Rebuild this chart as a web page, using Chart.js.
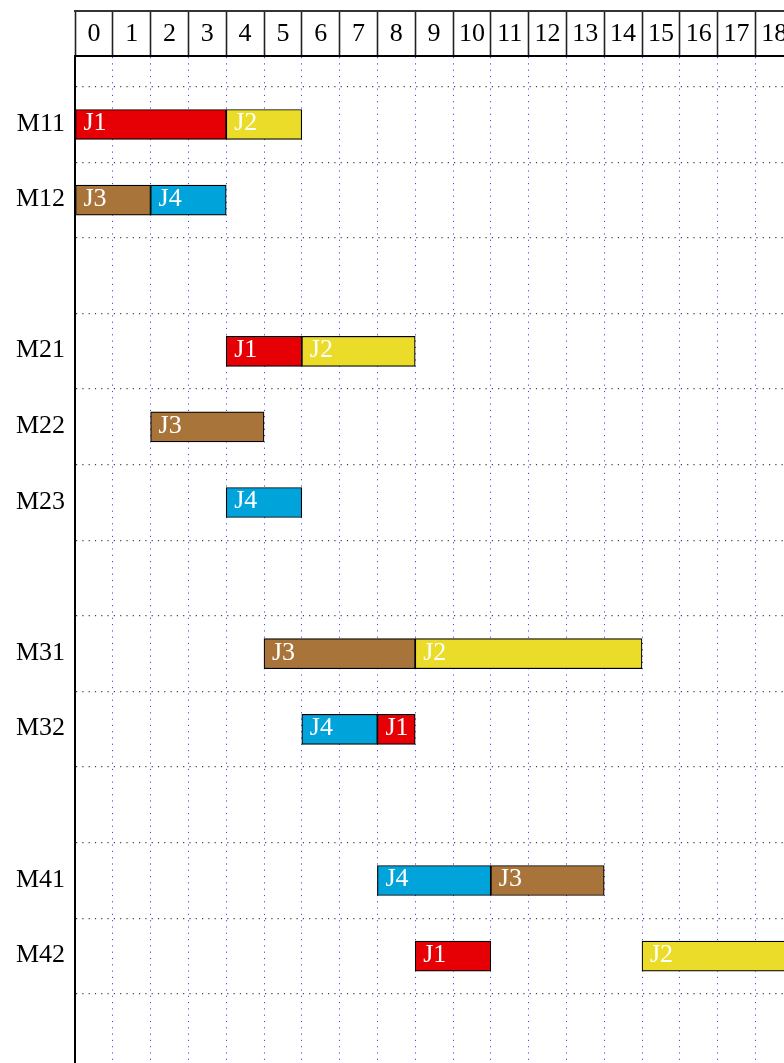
<!DOCTYPE html>
<html lang="en">
<head>
    <meta charset="UTF-8">
    <title>gantt</title>
    <style>
        html, body { margin: 0; padding: 0; overflow: hidden; background: #fff; }
        canvas { display: block; }
    </style>
</head>
<body>

<script src="https://cdn.jsdelivr.net/npm/chart.js"></script>

<canvas id="mycanvas" width="831" height="1103"></canvas>

<script>
    // rows of the chart (empty strings are the gaps between machine groups)
    const machines = ['M11', 'M12', '', 'M21', 'M22', 'M23', '', 'M31', 'M32', '', 'M41', 'M42', ''];
    // time labels in the header
    const hours = ['0','1','2','3','4','5','6','7','8','9','10','11','12','13','14','15','16','17','18','19'];

    // [machine, start, end] for each job
    const J1 = [['M11', 0, 4], ['M21', 4, 6], ['M32', 8, 9], ['M42', 9, 11]];
    const J2 = [['M11', 4, 6], ['M21', 6, 9], ['M31', 9, 15], ['M42', 15, 19]];
    const J3 = [['M12', 0, 2], ['M22', 2, 5], ['M31', 5, 9], ['M41', 11, 14]];
    const J4 = [['M12', 2, 4], ['M23', 4, 6], ['M32', 6, 8], ['M41', 8, 11]];

    const jobNames = ['J1', 'J2', 'J3', 'J4'];
    const jobColors = ['#e60005', '#ebdc2a', '#a9743a', '#00a3da'];

    function toBars(job) {
        return job.map(j => ({ y: machines.indexOf(j[0]), x: [j[1], j[2]] }));
    }

    // white job names inside the bars
    const barLabels = {
        id: 'barLabels',
        afterDatasetsDraw(chart) {
            const ctx = chart.ctx;
            ctx.save();
            ctx.font = '26px "Liberation Serif"';
            ctx.fillStyle = '#fff';
            ctx.textBaseline = 'middle';
            chart.data.datasets.forEach((ds, i) => {
                chart.getDatasetMeta(i).data.forEach(bar => {
                    ctx.fillText(ds.label, Math.min(bar.x, bar.base) + 8, bar.y - 1);
                });
            });
            ctx.restore();
        }
    };

    Chart.defaults.font.family = '"Liberation Serif", serif';
    Chart.defaults.font.size = 26;
    Chart.defaults.color = '#000';

    new Chart(document.getElementById('mycanvas'), {
        type: 'bar',
        data: {
            datasets: [J1, J2, J3, J4].map((job, i) => ({
                label: jobNames[i],
                data: toBars(job),
                backgroundColor: jobColors[i],
                borderColor: '#000',
                borderWidth: 1.2,
                borderSkipped: false,
                barThickness: 30,
                grouped: false
            }))
        },
        options: {
            indexAxis: 'y',
            responsive: false,
            animation: false,
            layout: { padding: { top: 11, left: 0, right: 0, bottom: 40 } },
            plugins: { legend: { display: false }, tooltip: { enabled: false } },
            scales: {
                x: {
                    type: 'linear',
                    position: 'top',
                    min: 0,
                    max: 20,
                    offset: false,
                    grid: {
                        color: 'rgb(70,70,255)',
                        lineWidth: 1,
                        tickLength: 45,
                        tickColor: '#222',
                        tickWidth: 1.6,
                        offset: false
                    },
                    border: { color: '#000', width: 2, dash: [1.2, 5.1] },
                    ticks: {
                        stepSize: 1,
                        autoSkip: false,
                        minRotation: 0,
                        maxRotation: 0,
                        labelOffset: 18.9,
                        padding: -39,
                        callback: v => hours[v] ?? ''
                    },
                    afterFit(scale) { scale.height = 45; }
                },
                x2: {
                    type: 'linear',
                    position: 'top',
                    weight: 1,
                    min: 0,
                    max: 20,
                    grid: { display: false },
                    ticks: { display: false },
                    border: { color: '#333', width: 2 },
                    afterFit(scale) { scale.height = 0; }
                },
                y: {
                    type: 'linear',
                    reverse: true,
                    min: -0.906,
                    max: 12.414,
                    offset: false,
                    grid: {
                        color: '#444',
                        lineWidth: 1.2,
                        drawTicks: false,
                        offset: false
                    },
                    border: { color: '#000', width: 2, dash: [1.2, 5.1] },
                    ticks: {
                        autoSkip: false,
                        padding: 10,
                        labelOffset: 37,
                        callback: v => machines[Math.round(v + 0.5)] ?? ''
                    },
                    afterBuildTicks(scale) {
                        scale.ticks = machines.map((m, i) => ({ value: i - 0.5 }));
                    },
                    afterFit(scale) { scale.width = 75; }
                }
            }
        },
        plugins: [barLabels]
    });
</script>

</body>
</html>
